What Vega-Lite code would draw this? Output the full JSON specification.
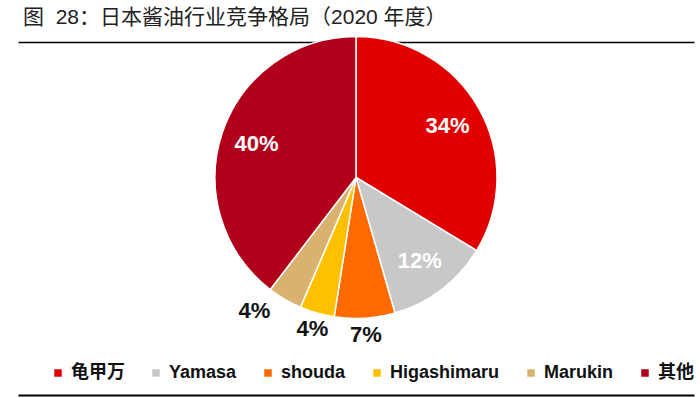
{
  "$schema": "https://vega.github.io/schema/vega-lite/v6.json",
  "width": 700,
  "height": 398,
  "autosize": {"type": "fit", "contains": "padding"},
  "padding": {"left": 18, "right": 6, "top": 15, "bottom": 3},
  "background": "white",
  "title": {
    "text": "图\u00a0 28：日本酱油行业竞争格局（2020 年度）",
    "anchor": "start",
    "font": "Liberation Sans, Noto Sans CJK SC",
    "fontSize": 21,
    "fontWeight": "normal",
    "color": "#222222",
    "offset": 6,
    "dx": 5
  },
  "data": {
    "values": [
      {"name": "龟甲万", "value": 34, "label": "34%", "idx": 1},
      {"name": "Yamasa", "value": 12, "label": "12%", "idx": 2},
      {"name": "shouda", "value": 7, "label": "7%", "idx": 3},
      {"name": "Higashimaru", "value": 4, "label": "4%", "idx": 4},
      {"name": "Marukin", "value": 4, "label": "4%", "idx": 5},
      {"name": "其他", "value": 40, "label": "40%", "idx": 6}
    ]
  },
  "layer": [
    {
      "mark": {"type": "arc", "outerRadius": 141, "stroke": "white", "strokeWidth": 1.5, "yOffset": -41},
      "encoding": {
        "theta": {"field": "value", "type": "quantitative", "stack": true},
        "order": {"field": "idx", "type": "quantitative"},
        "color": {
          "field": "name",
          "type": "nominal",
          "sort": ["龟甲万", "Yamasa", "shouda", "Higashimaru", "Marukin", "其他"],
          "scale": {
            "domain": ["龟甲万", "Yamasa", "shouda", "Higashimaru", "Marukin", "其他"],
            "range": ["#E00000", "#C8C8C8", "#FF6A00", "#FFC000", "#D9B26F", "#B0001B"]
          },
          "legend": {
            "orient": "none",
            "legendX": 31,
            "legendY": 322,
            "direction": "horizontal",
            "title": null,
            "symbolType": "square",
            "symbolSize": 56,
            "symbolStrokeWidth": 0,
            "labelFontSize": 18,
            "labelFontWeight": "bold",
            "labelFont": "Liberation Sans, Noto Sans CJK SC",
            "labelColor": "#111111",
            "columnPadding": 22,
            "labelOffset": 4
          }
        }
      }
    },
    {
      "mark": {"type": "text", "radius": 105, "yOffset": -41, "fontSize": 22, "fontWeight": "bold", "font": "Liberation Sans", "color": "white"},
      "encoding": {
        "theta": {"field": "value", "type": "quantitative", "stack": true},
        "order": {"field": "idx", "type": "quantitative"},
        "text": {"condition": {"test": "datum.value >= 10", "field": "label"}, "value": ""}
      }
    },
    {
      "mark": {"type": "text", "radius": 158, "yOffset": -41, "fontSize": 22, "fontWeight": "bold", "font": "Liberation Sans", "color": "#111111"},
      "encoding": {
        "theta": {"field": "value", "type": "quantitative", "stack": true},
        "order": {"field": "idx", "type": "quantitative"},
        "text": {"condition": {"test": "datum.value < 10 && datum.name != 'Marukin'", "field": "label"}, "value": ""}
      }
    },
    {
      "mark": {"type": "text", "radius": 158, "yOffset": -41, "dx": -22, "dy": -3, "fontSize": 22, "fontWeight": "bold", "font": "Liberation Sans", "color": "#111111"},
      "encoding": {
        "theta": {"field": "value", "type": "quantitative", "stack": true},
        "order": {"field": "idx", "type": "quantitative"},
        "text": {"condition": {"test": "datum.name == 'Marukin'", "field": "label"}, "value": ""}
      }
    },
    {
      "mark": {"type": "rule", "strokeOpacity": 0},
      "encoding": {
        "x": {"datum": 0, "type": "quantitative", "scale": {"domain": [0, 1]},
          "axis": {"orient": "top", "labels": false, "ticks": false, "grid": false, "title": null, "domainColor": "#000000", "domainWidth": 1.5}}
      }
    },
    {
      "mark": {"type": "rule", "strokeOpacity": 0},
      "encoding": {
        "x": {"datum": 0, "type": "quantitative", "scale": {"domain": [0, 1]},
          "axis": {"orient": "bottom", "labels": false, "ticks": false, "grid": false, "title": null, "domainColor": "#000000", "domainWidth": 2}}
      }
    }
  ],
  "resolve": {"scale": {"x": "independent"}, "axis": {"x": "independent"}},
  "config": {"view": {"stroke": null}}
}
